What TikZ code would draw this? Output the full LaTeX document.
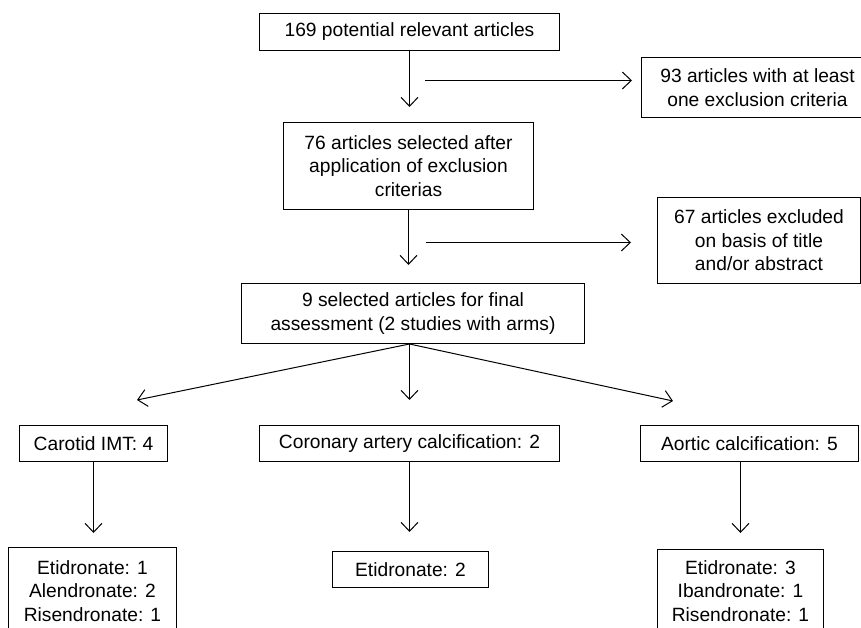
\documentclass[tikz,border=0pt]{standalone}
\usepackage{fontspec}
\setmainfont{Liberation Sans}
\usetikzlibrary{arrows.meta}
\tikzset{
  box/.style={draw, line width=1pt, inner sep=0pt, align=center,
    font=\fontsize{19.2}{23.5}\selectfont},
  arr/.style={draw, line width=1pt, -{Straight Barb[length=9pt,width=17pt,line width=1pt]}},
}
\begin{document}
\begin{tikzpicture}[x=1pt,y=-1pt]
\path[use as bounding box, clip] (0,0) rectangle (861,628);
\fill[white] (0,0) rectangle (861,628);

\node[box, minimum width=300pt, minimum height=37pt] (n1) at (409.5,32) {169 potential relevant articles};
\node[box, minimum width=232pt, minimum height=60pt] (n93) at (757.5,87.5) {93 articles with at least\\one exclusion criteria};
\node[box, minimum width=250pt, minimum height=87pt] (n76) at (408.5,166) {76 articles selected after\\application of exclusion\\criterias};
\node[box, minimum width=203pt, minimum height=86pt] (n67) at (759,240.5) {67 articles excluded\\on basis of title\\and/or abstract};
\node[box, minimum width=343pt, minimum height=60pt] (n9) at (413,313.5) {9 selected articles for final\\assessment (2 studies with arms)};

\node[box, minimum width=148pt, minimum height=36pt] (car) at (93.5,443.5) {Carotid IMT: 4};
\node[box, minimum width=300pt, minimum height=36pt] (cor) at (409.5,443.5) {Coronary artery calcification: 2};
\node[box, minimum width=218pt, minimum height=36pt] (aor) at (749.5,443.5) {Aortic calcification: 5};

\node[box, minimum width=168pt, minimum height=87pt] (b1) at (92.5,591) {Etidronate: 1\\Alendronate: 2\\Risendronate: 1};
\node[box, minimum width=156pt, minimum height=36pt] (b2) at (410.5,569.5) {Etidronate: 2};
\node[box, minimum width=166pt, minimum height=83pt] (b3) at (740.5,591) {Etidronate: 3\\Ibandronate: 1\\Risendronate: 1};

% vertical main arrows
\draw[arr, shorten >=15pt] (n1.south) -- (n1.south |- n76.north);
\draw[arr, shorten >=18pt] (n76.south) -- (n76.south |- n9.north);

% side arrows
\coordinate (s1) at (425,80.5);
\coordinate (s2) at (426,242.5);
\draw[arr, shorten >=9pt] (s1) -- (s1 -| n93.west);
\draw[arr, shorten >=26pt] (s2) -- (s2 -| n67.west);

% fan
\coordinate (apex) at (409.5,344);
\coordinate (t1) at (137,400);
\coordinate (t2) at (409.5,400);
\coordinate (t3) at (673,401);
\draw[arr] (apex) -- (t1);
\draw[arr] (apex) -- (t2);
\draw[arr] (apex) -- (t3);

% lower arrows
\draw[arr, shorten >=14pt] (car.south) -- (car.south |- b1.north);
\draw[arr, shorten >=19pt] (cor.south) -- (cor.south |- b2.north);
\draw[arr, shorten >=16pt] (aor.south -| b3.north) -- (b3.north);
\end{tikzpicture}
\end{document}
